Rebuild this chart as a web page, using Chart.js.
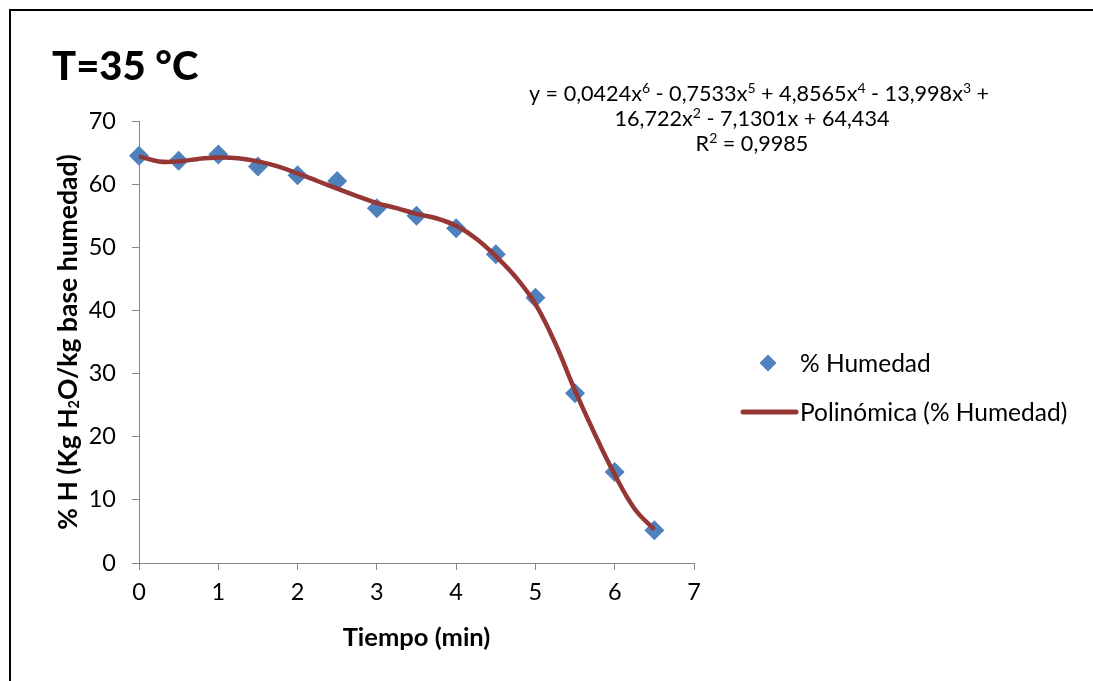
<!DOCTYPE html>
<html>
<head>
<meta charset="utf-8">
<script src="https://cdn.jsdelivr.net/npm/chart.js@4.4.1/dist/chart.umd.min.js"></script>
<style>
  html, body { margin: 0; padding: 0; background: #ffffff; }
  #wrap { width: 1093px; height: 681px; position: relative; }
  canvas { display: block; }
</style>
</head>
<body>
<div id="wrap"><canvas id="c" width="1093" height="681"></canvas></div>
<script>
// ---- Data ----
const tiempo  = [0, 0.5, 1, 1.5, 2, 2.5, 3, 3.5, 4, 4.5, 5, 5.5, 6, 6.5];
const humedad = [64.5, 63.7, 64.7, 62.8, 61.4, 60.5, 56.2, 55.0, 53.0, 48.9, 42.0, 26.9, 14.4, 5.2];
// trend line (Polinómica)
const curvaX = [0, 0.25, 0.5, 0.75, 1, 1.25, 1.5, 1.75, 2, 2.25, 2.5, 2.75, 3, 3.25, 3.5, 3.75, 4, 4.25, 4.5, 4.75, 5, 5.25, 5.5, 5.75, 6, 6.25, 6.5];
const curvaY = [64.4, 63.6, 63.6, 64.0, 64.2, 64.1, 63.6, 62.8, 61.7, 60.5, 59.3, 58.1, 57.0, 56.2, 55.3, 54.6, 53.4, 51.4, 48.6, 45.3, 41.0, 34.8, 27.3, 20.4, 14.0, 8.6, 5.3];
const xTicks = [0, 1, 2, 3, 4, 5, 6, 7];
const yTicks = [0, 10, 20, 30, 40, 50, 60, 70];

const titulo = 'T=35 °C';
const ejeX = 'Tiempo (min)';
const ejeY = [{t: '% H (Kg H'}, {t: '2', s: 'sub'}, {t: 'O/kg base humedad)'}];
const serie1 = '% Humedad';
const serie2 = 'Polinómica (% Humedad)';
const ecuacion = [
  [{t: 'y = 0,0424x'}, {t: '6', s: 'sup'}, {t: ' - 0,7533x'}, {t: '5', s: 'sup'}, {t: ' + 4,8565x'}, {t: '4', s: 'sup'}, {t: ' - 13,998x'}, {t: '3', s: 'sup'}, {t: ' +'}],
  [{t: '16,722x'}, {t: '2', s: 'sup'}, {t: ' - 7,1301x + 64,434'}],
  [{t: 'R'}, {t: '2', s: 'sup'}, {t: ' = 0,9985'}]
];

const FAM = "Lato, 'Open Sans', 'Liberation Sans', sans-serif";
const BLUE = '#4F81BD';
const RED = '#953735';
const AXIS = '#868686';

function richWidth(ctx, parts, size, weight) {
  let w = 0;
  for (const p of parts) {
    const fs = p.s ? size * (p.s === 'sub' ? 0.55 : 0.65) : size;
    ctx.font = weight + ' ' + fs + 'px ' + FAM;
    w += ctx.measureText(p.t).width;
  }
  return w;
}
function drawRich(ctx, parts, x, y, size, weight, align) {
  const w = richWidth(ctx, parts, size, weight);
  let cx = align === 'center' ? x - w / 2 : x;
  ctx.textAlign = 'left';
  ctx.textBaseline = 'alphabetic';
  for (const p of parts) {
    const fs = p.s ? size * (p.s === 'sub' ? 0.55 : 0.65) : size;
    ctx.font = weight + ' ' + fs + 'px ' + FAM;
    let dy = 0;
    if (p.s === 'sup') dy = -size * 0.36;
    if (p.s === 'sub') dy = size * 0.08;
    ctx.fillText(p.t, cx, y + dy);
    cx += ctx.measureText(p.t).width;
  }
}

const decor = {
  id: 'decor',
  beforeDraw(chart) {
    const ctx = chart.ctx;
    ctx.save();
    ctx.fillStyle = '#ffffff';
    ctx.fillRect(0, 0, chart.width, chart.height);
    ctx.strokeStyle = '#000000';
    ctx.lineWidth = 2;
    ctx.beginPath();
    ctx.moveTo(10, 681);
    ctx.lineTo(10, 10);
    ctx.lineTo(1093, 10);
    ctx.stroke();
    ctx.restore();
  },
  afterDraw(chart) {
    const ctx = chart.ctx;
    const area = chart.chartArea;
    ctx.save();
    ctx.fillStyle = '#000000';
    // title
    ctx.font = '900 40px ' + FAM;
    ctx.textAlign = 'left';
    ctx.textBaseline = 'alphabetic';
    ctx.fillText(titulo, 52, 80);
    // equation
    drawRich(ctx, ecuacion[0], 759, 101, 21.6, 'normal', 'center');
    drawRich(ctx, ecuacion[1], 752, 126, 21.6, 'normal', 'center');
    drawRich(ctx, ecuacion[2], 752, 151, 21.6, 'normal', 'center');
    // axis titles
    ctx.font = 'bold 25.5px ' + FAM;
    ctx.textAlign = 'center';
    ctx.fillText(ejeX, (area.left + area.right) / 2, 646);
    ctx.save();
    ctx.translate(77, (area.top + area.bottom) / 2);
    ctx.rotate(-Math.PI / 2);
    drawRich(ctx, ejeY, 0, 0, 26.5, 'bold', 'center');
    ctx.restore();
    // legend
    ctx.fillStyle = BLUE;
    ctx.beginPath();
    const lx = 768, ly = 363, r = 8.5;
    ctx.moveTo(lx - r, ly); ctx.lineTo(lx, ly - r); ctx.lineTo(lx + r, ly); ctx.lineTo(lx, ly + r);
    ctx.closePath();
    ctx.fill();
    ctx.strokeStyle = RED;
    ctx.lineWidth = 5;
    ctx.lineCap = 'round';
    ctx.beginPath();
    ctx.moveTo(743, 412); ctx.lineTo(796, 412);
    ctx.stroke();
    ctx.fillStyle = '#000000';
    ctx.font = 'normal 24.5px ' + FAM;
    ctx.textAlign = 'left';
    ctx.textBaseline = 'middle';
    ctx.fillText(serie1, 800, 364);
    ctx.fillText(serie2, 800, 413);
    ctx.restore();
  }
};

new Chart(document.getElementById('c'), {
  type: 'scatter',
  data: {
    datasets: [
      {
        label: serie2,
        data: curvaX.map((x, i) => ({x: x, y: curvaY[i]})),
        showLine: true,
        borderColor: RED,
        borderWidth: 4.5,
        pointRadius: 0,
        tension: 0.4,
        fill: false,
        clip: false,
        order: 1
      },
      {
        label: serie1,
        data: tiempo.map((x, i) => ({x: x, y: humedad[i]})),
        showLine: false,
        pointStyle: 'rectRot',
        pointRadius: 10,
        pointHoverRadius: 10,
        backgroundColor: BLUE,
        borderColor: BLUE,
        borderWidth: 0,
        clip: false,
        order: 2
      }
    ]
  },
  options: {
    responsive: false,
    animation: false,
    devicePixelRatio: 1,
    layout: { padding: { left: 0, top: 121, right: 399, bottom: 58 } },
    plugins: { legend: { display: false }, title: { display: false }, tooltip: { enabled: false } },
    events: [],
    scales: {
      x: {
        type: 'linear', min: 0, max: 7,
        afterBuildTicks(scale) { scale.ticks = xTicks.map(v => ({value: v})); },
        afterFit(scale) { scale.height = 60; },
        ticks: { color: '#000', font: { family: FAM, size: 23.5 }, padding: 8, maxRotation: 0 },
        grid: { display: true, drawOnChartArea: false, drawTicks: true, tickLength: 7, color: AXIS },
        border: { display: true, color: AXIS, width: 1 }
      },
      y: {
        type: 'linear', min: 0, max: 70,
        afterBuildTicks(scale) { scale.ticks = yTicks.map(v => ({value: v})); },
        afterFit(scale) { scale.width = 139; },
        ticks: { color: '#000', font: { family: FAM, size: 23.5 }, padding: 16 },
        grid: { display: true, drawOnChartArea: false, drawTicks: true, tickLength: 7, color: AXIS },
        border: { display: true, color: AXIS, width: 1 }
      }
    }
  },
  plugins: [decor]
});
</script>
</body>
</html>
